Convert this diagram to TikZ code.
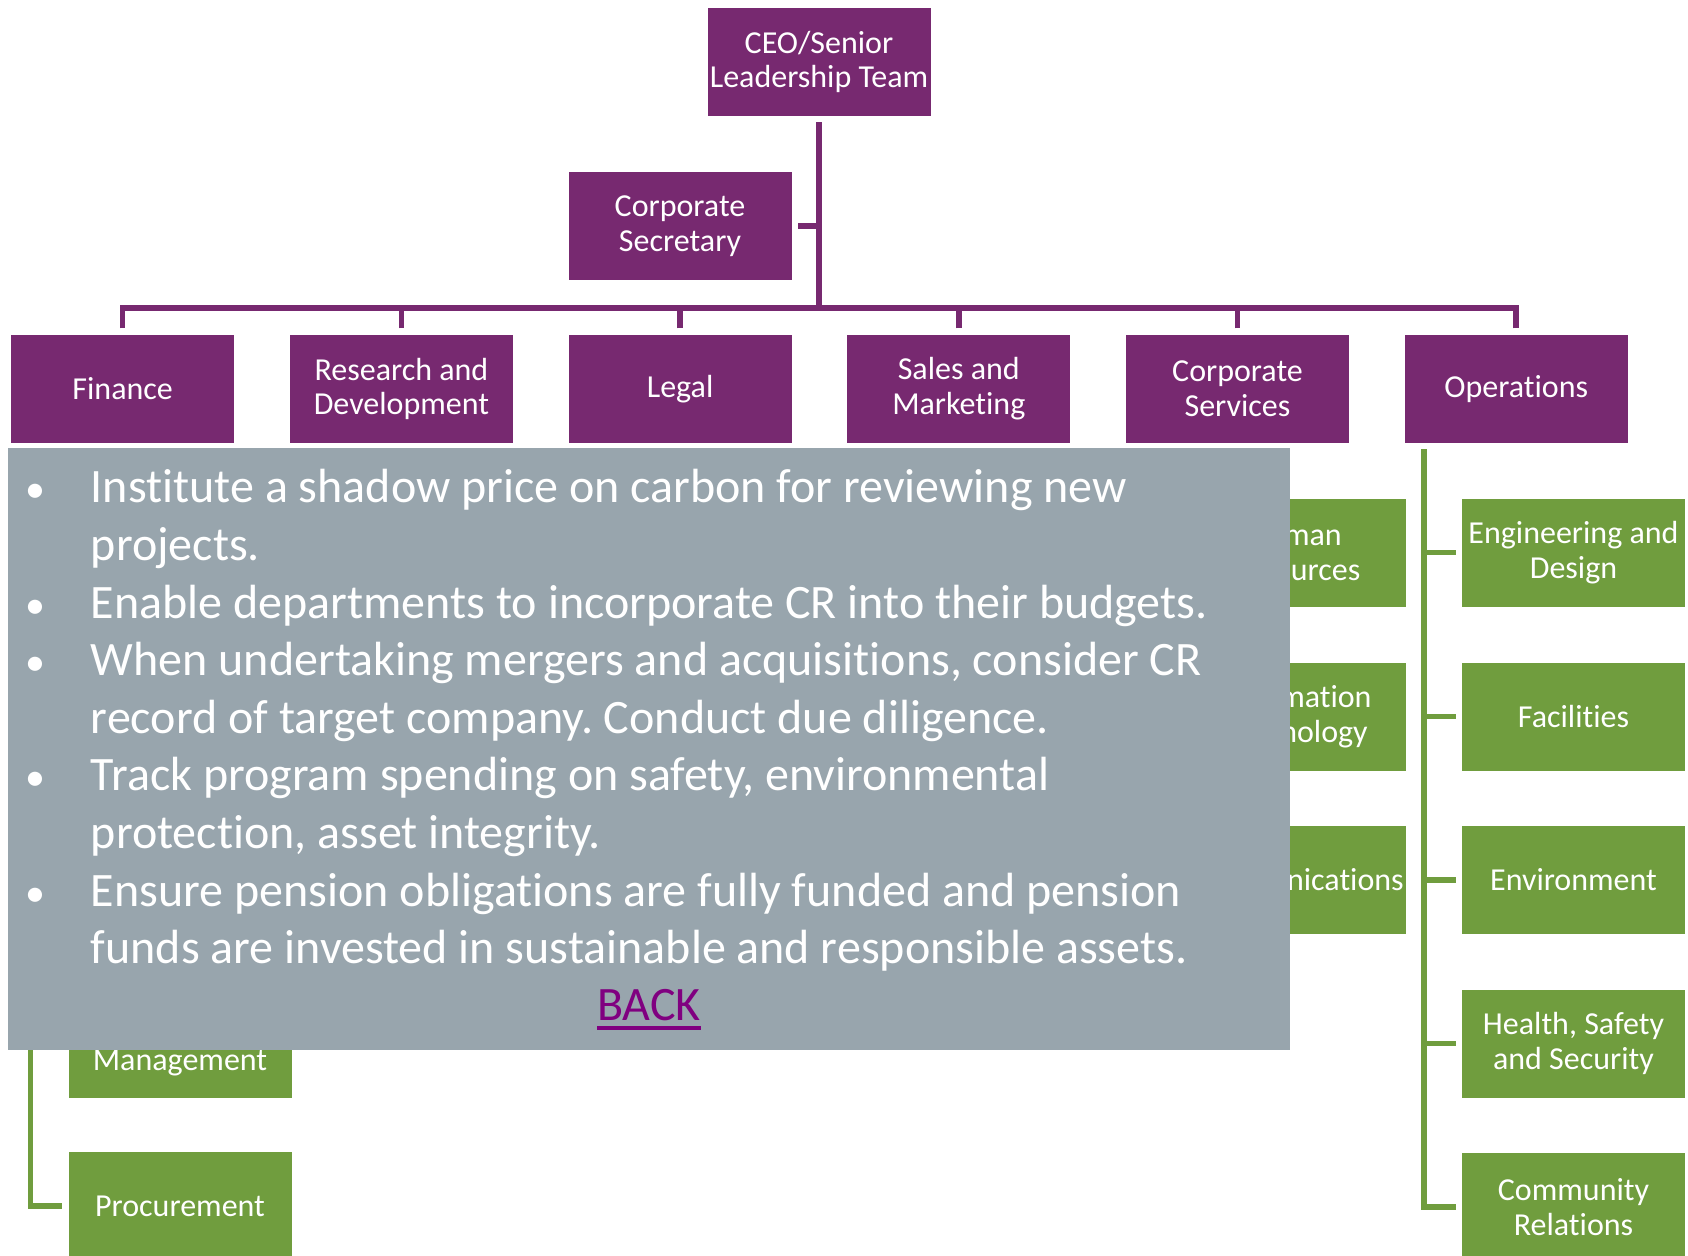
\documentclass[tikz,border=0pt]{standalone}
\usepackage{fontspec}
\setmainfont{Carlito}[Ligatures=CommonOff]
\frenchspacing

\definecolor{orgpurple}{RGB}{119,41,112}
\definecolor{orggreen}{RGB}{112,157,62}
\definecolor{notegrey}{RGB}{152,165,173}
\definecolor{linkpurple}{RGB}{128,0,128}
\newcommand{\linkrule}[1]{\setbox0\hbox{#1}\rlap{\rule[-5pt]{\wd0}{2pt}}\box0}
\newcommand{\dotmark}{\makebox[11pt]{\fontsize{20}{0}\selectfont •}}

\begin{document}
\begin{tikzpicture}[x=0.5pt,y=0.5pt,yscale=-1,xscale=1,
  purplebox/.style={fill=orgpurple,draw=white,line width=0.4pt,text=white,minimum width=112pt,minimum height=54.5pt,inner sep=0pt,outer sep=3pt,align=center,font=\fontsize{16}{17.4}\selectfont},
  greenbox/.style={purplebox,fill=orggreen},
  purpleline/.style={draw=orgpurple,line width=2.75pt},
  greenline/.style={draw=orggreen,line width=2.75pt},
  notepanel/.style={fill=notegrey,minimum width=641.25pt,minimum height=300.8pt,inner sep=0pt},
  notetext/.style={text=white,inner sep=0pt,font=\fontsize{24}{28.8}\selectfont}]
  %set diagram left start at 0, and has height of 1256
  \useasboundingbox (0,0) rectangle (1688,1256);

  %Shape: Rectangle [top]
  \node[purplebox] (ceo) at (819,62) {CEO/Senior\\Leadership Team};
  \node[purplebox] (sec) at (680,226) {Corporate\\Secretary};
  %Shape: Rectangle [departments]
  \node[purplebox] (fin) at (122.7,389) {Finance};
  \node[purplebox] (rd) at (401.4,389) {Research and\\Development};
  \node[purplebox] (legal) at (680.1,389) {Legal};
  \node[purplebox] (sales) at (958.8,389) {Sales and\\Marketing};
  \node[purplebox] (cserv) at (1237.5,389) {Corporate\\Services};
  \node[purplebox] (ops) at (1516.2,389) {Operations};

  %Straight Lines [purple]
  \coordinate (bus) at (819,308);
  \draw[purpleline] (ceo.south) -- (bus);
  \draw[purpleline] (sec.east) -- (sec.east -| bus);
  \foreach \n in {fin,rd,legal,sales,cserv,ops}
    \draw[purpleline] (\n.north) |- (bus);

  %Shape: Rectangle [finance]
  \node[greenbox] (risk) at (180,1043.5) {\strut\\Management};
  \node[greenbox] (proc) at (180,1206) {Procurement};
  %Shape: Rectangle [corporate services]
  \node[greenbox] (hr) at (1294.5,552.5) {Human\\Resources};
  \node[greenbox] (it) at (1294.5,716.5) {Information\\Technology};
  \node[greenbox] (comm) at (1294.5,880) {Communications};
  %Shape: Rectangle [operations]
  \node[greenbox] (eng) at (1573.5,552.5) {Engineering and\\Design};
  \node[greenbox] (facil) at (1573.5,716.5) {Facilities};
  \node[greenbox] (envir) at (1573.5,880) {Environment};
  \node[greenbox] (hss) at (1573.5,1043.5) {Health, Safety\\and Security};
  \node[greenbox] (commrel) at (1573.5,1207) {Community\\Relations};

  %Straight Lines [green]
  \coordinate (finstem) at ([xshift=13pt]fin.south west);
  \coordinate (csstem) at ([xshift=13pt]cserv.south west);
  \coordinate (opsstem) at ([xshift=13pt]ops.south west);
  \draw[greenline] (finstem) |- (proc.west);
  \draw[greenline] (finstem |- risk.west) -- (risk.west);
  \draw[greenline] (csstem) |- (comm.west);
  \foreach \n in {hr,it}
    \draw[greenline] (csstem |- \n.west) -- (\n.west);
  \draw[greenline] (opsstem) |- (commrel.west);
  \foreach \n in {eng,facil,envir,hss}
    \draw[greenline] (opsstem |- \n.west) -- (\n.west);

  %Shape: Rectangle [notes]
  \node[notepanel] (note) at (648.75,748.8) {};
  % Text Node
  \node[notetext,anchor=base west] (points) at (24.5,503) {\begin{tabular}[t]{@{}c@{\hspace{22pt}}l@{}}
    \dotmark & Institute a shadow price on carbon for reviewing new\\
      & projects.\\
    \dotmark & Enable departments to incorporate CR into their budgets.\\
    \dotmark & When undertaking mergers and acquisitions, consider CR\\
      & record of target company. Conduct due diligence.\\
    \dotmark & Track program spending on safety, environmental\\
      & protection, asset integrity.\\
    \dotmark & Ensure pension obligations are fully funded and pension\\
      & funds are invested in sustainable and responsible assets.
  \end{tabular}};
  % Text Node
  \node[notetext,text=linkpurple,anchor=base] (back) at (649,1020) {\linkrule{BACK}};
\end{tikzpicture}
\end{document}
